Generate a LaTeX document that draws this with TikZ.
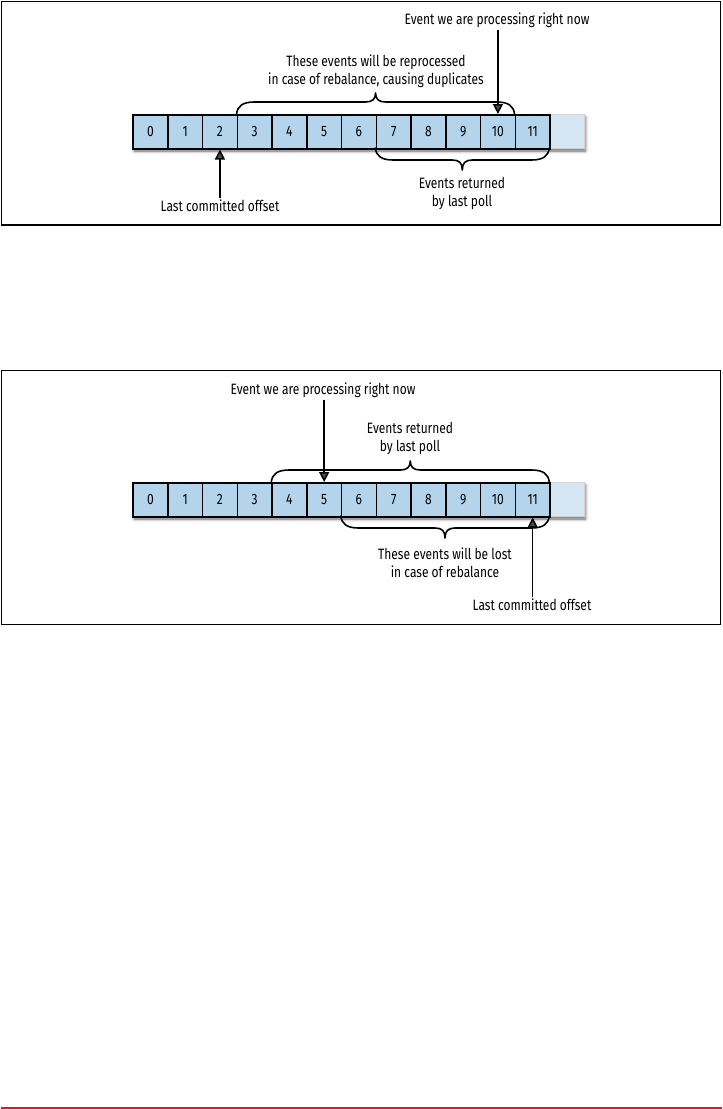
\documentclass[tikz,border=0pt]{standalone}
\usepackage{fontspec}
\setmainfont{Fira Sans}[FakeStretch=0.8]
\usetikzlibrary{arrows.meta,shadows.blur}
\definecolor{cellblue}{HTML}{B3D4EB}
\definecolor{palecell}{HTML}{D6E7F4}
\definecolor{redline}{HTML}{D71A2E}
\newcommand\braceup[3]{%
  \draw[brace] (#1,#3) .. controls (#1+1,#3-8) and (#1+6,#3-12) .. (#1+18,#3-12)
    -- ({(#1+#2)/2-10},#3-12) .. controls ({(#1+#2)/2-3},#3-12) and ({(#1+#2)/2},#3-15) .. ({(#1+#2)/2},#3-21)
    .. controls ({(#1+#2)/2},#3-15) and ({(#1+#2)/2+3},#3-12) .. ({(#1+#2)/2+10},#3-12)
    -- (#2-18,#3-12) .. controls (#2-6,#3-12) and (#2-1,#3-8) .. (#2,#3);}
\newcommand\bracedown[3]{%
  \draw[brace] (#1,#3) .. controls (#1+1,#3+8) and (#1+6,#3+12) .. (#1+18,#3+12)
    -- ({(#1+#2)/2-10},#3+12) .. controls ({(#1+#2)/2-3},#3+12) and ({(#1+#2)/2},#3+15) .. ({(#1+#2)/2},#3+22)
    .. controls ({(#1+#2)/2},#3+15) and ({(#1+#2)/2+3},#3+12) .. ({(#1+#2)/2+10},#3+12)
    -- (#2-18,#3+12) .. controls (#2-6,#3+12) and (#2-1,#3+8) .. (#2,#3);}
\begin{document}
\begin{tikzpicture}[x=1pt,y=-1pt,
  cell/.style={draw=black, line width=1.5pt, fill=cellblue, minimum width=34.75pt,
    minimum height=34pt, inner sep=0pt, anchor=north west, font=\fontsize{15}{15}\selectfont},
  pale/.style={draw=gray!35, line width=0.6pt, fill=palecell, minimum width=34.2pt,
    minimum height=34pt, inner sep=0pt, anchor=north west},
  lbl/.style={font=\fontsize{15}{18}\selectfont, align=center, inner sep=2pt},
  arr/.style={line width=1.5pt, -{Triangle[length=10pt,width=10pt]}},
  brace/.style={line width=1.6pt, line join=round, line cap=round},
  frame/.style={line width=1.2pt},
  rowshadow/.style={blur shadow={shadow xshift=2pt, shadow yshift=-3pt,
    shadow blur radius=3pt, shadow opacity=60}}]
\useasboundingbox (0,0) rectangle (723,1109);

% ---------- frames ----------
\draw[frame] (1.5,1.5) rectangle (720.5,225);
\draw[frame] (1.5,370.5) rectangle (720.5,624.5);
\draw[redline, line width=1.5pt] (1,1107.8) -- (722,1107.8);

% ---------- diagram 1 ----------
\path[rowshadow] (132.3,114) rectangle (583.5,148);
\node[pale] (ap) at (549.3,114) {};
\foreach \i in {0,...,11} \node[cell] (a\i) at ({132.3+\i*34.75},114) {\i};

\node[lbl] (ev1) at (497,20) {Event we are processing right now};
\node[lbl] (rep) at (376,71) {These events will be reprocessed\\in case of rebalance, causing duplicates};
\node[lbl] (ret1) at (462,193) {Events returned\\by last poll};
\node[lbl] (lco1) at (220,206) {Last committed offset};

\braceup{236.55}{514.55}{114}
\bracedown{375.3}{549.3}{148}
\draw[arr] (ev1.south -| a10.north) -- (a10.north);
\draw[arr] (lco1.north -| a2.south) -- (a2.south);

% ---------- diagram 2 ----------
\path[rowshadow] (132.3,482) rectangle (583.5,516);
\node[pale] (bp) at (549.3,482) {};
\foreach \i in {0,...,11} \node[cell] (b\i) at ({132.3+\i*34.75},482) {\i};

\node[lbl] (ev2) at (323,390) {Event we are processing right now};
\node[lbl] (ret2) at (410,438.5) {Events returned\\by last poll};
\node[lbl] (lost) at (445,563) {These events will be lost\\in case of rebalance};
\node[lbl] (lco2) at (532,605) {Last committed offset};

\braceup{271.3}{549.3}{482}
\bracedown{340.8}{549.3}{516}
\draw[arr] (ev2.south -| b5.north) -- (b5.north);
\draw[arr] (lco2.north -| b11.south) -- (b11.south);
\end{tikzpicture}
\end{document}
